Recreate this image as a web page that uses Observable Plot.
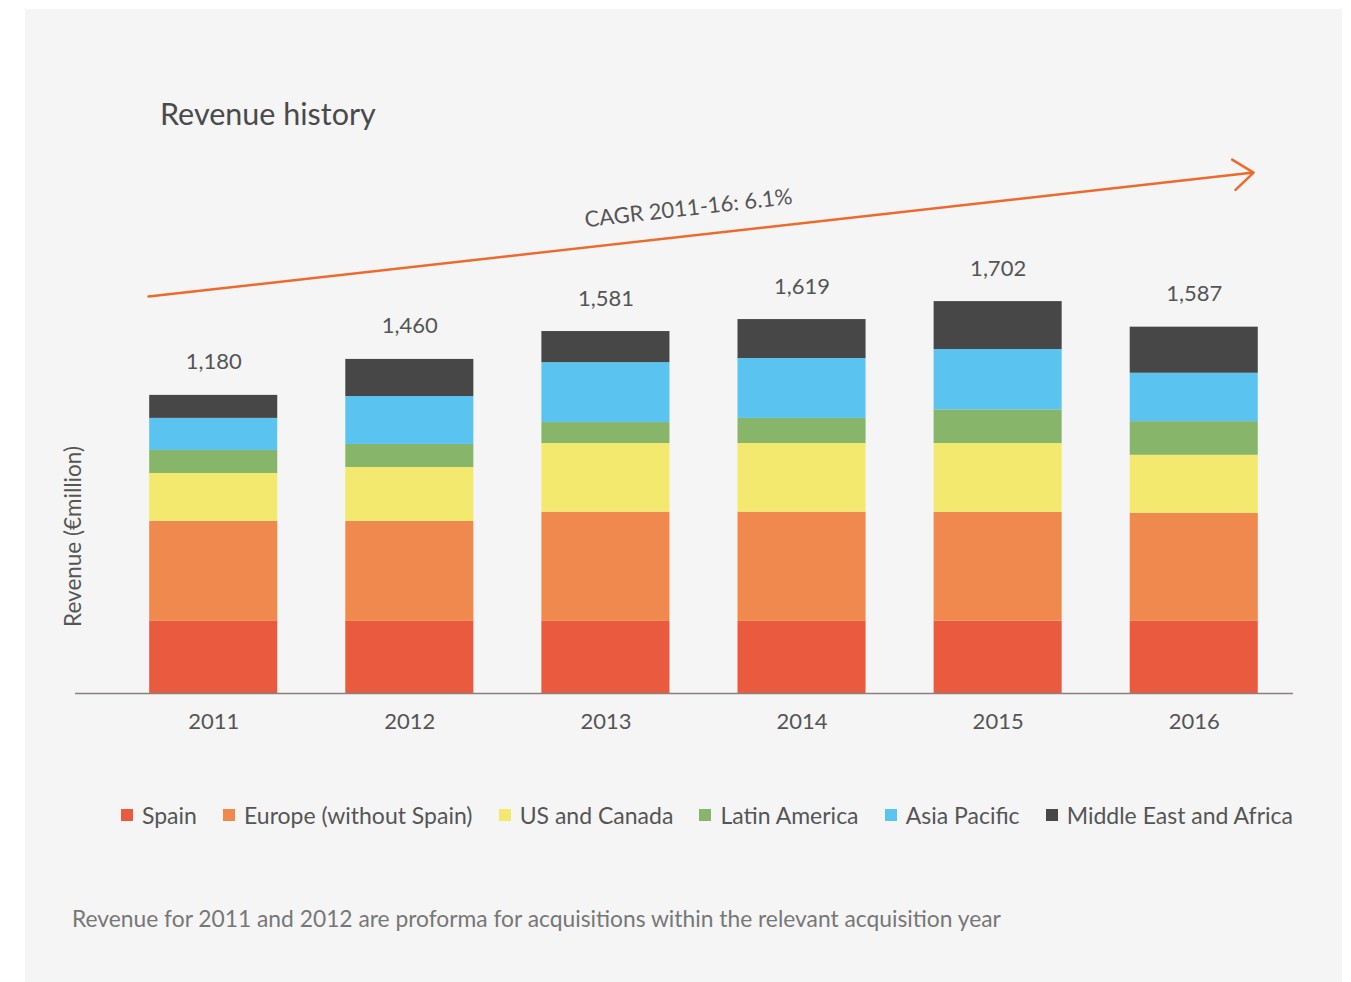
<!DOCTYPE html>
<html>
<head>
<meta charset="utf-8">
<script src="https://cdn.jsdelivr.net/npm/d3@7"></script>
<script src="https://cdn.jsdelivr.net/npm/@observablehq/plot@0.6"></script>
<style>
  body { margin: 0; background: #ffffff; font-family: Lato, "Open Sans", sans-serif; }
  #panel { position: absolute; left: 25px; top: 9px; width: 1317px; height: 973px; background: #f5f5f5; }
  #title { position: absolute; left: 160px; top: 98px; font-size: 30.5px; line-height: 1; color: #4a4a4a; white-space: nowrap; }
  #chart { position: absolute; left: 0; top: 0; }
  #legend { position: absolute; left: 121px; width: 1172px; top: 800px; height: 30px; display: flex; justify-content: space-between; align-items: center; font-size: 23px; line-height: 30px; color: #555; }
  #legend .item { display: flex; align-items: center; white-space: nowrap; }
  #legend .sw { width: 12px; height: 12px; margin-right: 9px; flex: none; }
  #note { position: absolute; left: 72px; top: 903px; font-size: 22.8px; line-height: 30px; color: #777; white-space: nowrap; }
</style>
</head>
<body>
<div id="panel"></div>
<div id="title">Revenue history</div>
<div id="chart"></div>
<div id="legend"></div>
<div id="note">Revenue for 2011 and 2012 are proforma for acquisitions within the relevant acquisition year</div>
<script>
// ---- data ----
const years = ["2011", "2012", "2013", "2014", "2015", "2016"];
const regions = ["Spain", "Europe (without Spain)", "US and Canada", "Latin America", "Asia Pacific", "Middle East and Africa"];
const regionColors = ["#e95a3f", "#f0894d", "#f2e96e", "#87b66b", "#5bc3f0", "#474747"];
const spain = [313, 313, 313, 313, 314, 313];
const europe = [434, 434, 474, 474, 472, 469];
const usCanada = [208, 234, 298, 298, 299, 252];
const latinAmerica = [100, 100, 91, 109, 146, 146];
const asiaPacific = [139, 208, 260, 260, 262, 210];
const middleEastAfrica = [100, 161, 135, 169, 208, 200];
const totals = [1180, 1460, 1581, 1619, 1702, 1587];
const yLabel = "Revenue (€million)";
const cagrLabel = "CAGR 2011-16: 6.1%";
const cagrArrow = [{from: "2011", to: "2016", start: 1755, end: 2232}];

// ---- tables ----
const series = [spain, europe, usCanada, latinAmerica, asiaPacific, middleEastAfrica];
const rows = [];
years.forEach((yr, i) => regions.forEach((r, j) => rows.push({year: yr, region: r, value: series[j][i]})));
const tops = years.map((yr, i) => ({year: yr, top: d3.sum(series, s => s[i]), total: totals[i]}));
const fmt = d3.format(",");

const chart = Plot.plot({
  width: 1351,
  height: 760,
  marginTop: 117,
  marginBottom: 67,
  marginLeft: 75,
  marginRight: 58,
  style: {fontFamily: "Lato, 'Open Sans', sans-serif", fontSize: "22px", color: "#555", background: "transparent", overflow: "visible"},
  x: {domain: years, paddingInner: 0.347, paddingOuter: 0.279, align: 0.678, round: false, label: null, tickSize: 0, tickPadding: 20},
  y: {domain: [0, 2500], axis: null},
  color: {domain: regions, range: regionColors},
  marks: [
    Plot.barY(rows, {x: "year", y: "value", fill: "region"}),
    Plot.ruleY([0], {stroke: "#8a8080", strokeWidth: 1.5}),
    Plot.text(tops, {x: "year", y: "top", text: d => fmt(d.total), dy: -33, fontSize: 22, fill: "#555", lineAnchor: "middle"}),
    Plot.arrow(cagrArrow, {x1: "from", y1: "start", x2: "to", y2: "end", stroke: "#ee6a2c", strokeWidth: 2.5,
      headLength: 15, headAngle: 75, insetStart: -65.7, insetEnd: -59.7}),
    Plot.text(cagrArrow, {x: () => "2013", y: d => (d.start + d.end) / 2, text: () => cagrLabel, dx: 82.5, dy: -25.7,
      rotate: -6.4, textAnchor: "middle", lineAnchor: "middle", fontSize: 22, fill: "#555"}),
    Plot.text([yLabel], {frameAnchor: "left", text: d => d, rotate: -90, dx: -2, dy: 131,
      textAnchor: "middle", lineAnchor: "middle", fontSize: 22.5, fill: "#555"})
  ]
});
document.getElementById("chart").appendChild(chart);

// ---- legend ----
const legend = document.getElementById("legend");
regions.forEach((r, j) => {
  const item = document.createElement("div");
  item.className = "item";
  const sw = document.createElement("span");
  sw.className = "sw";
  sw.style.background = regionColors[j];
  const t = document.createElement("span");
  t.textContent = r;
  item.appendChild(sw);
  item.appendChild(t);
  legend.appendChild(item);
});
</script>
</body>
</html>
